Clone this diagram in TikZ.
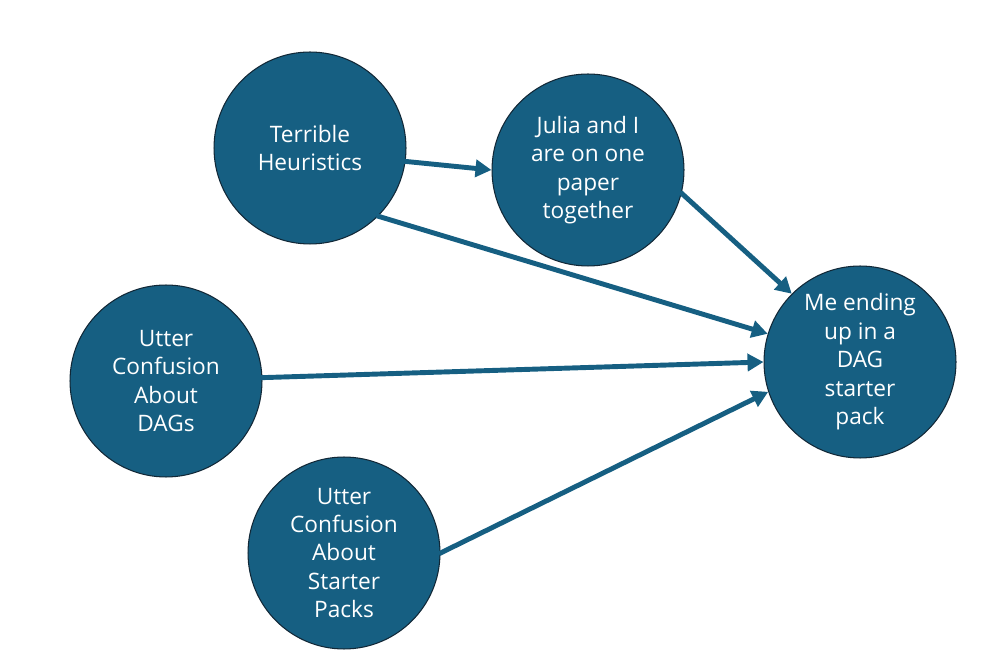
\documentclass[tikz,border=0pt]{standalone}
\usepackage{fontspec}
\setmainfont{Open Sans}
\usetikzlibrary{arrows.meta}
\definecolor{dagblue}{RGB}{22,95,130}
\definecolor{dagedge}{RGB}{18,40,55}
\tikzset{
  dagnode/.style={circle, fill=dagblue, draw=dagedge, line width=0.6pt,
    minimum size=3.84cm, inner sep=0pt, align=center, text=white,
    font=\fontsize{12.9}{16.2}\selectfont},
  dagarrow/.style={draw=dagblue, line width=2.8pt,
    -{Triangle[length=0.32cm,width=0.34cm]}, shorten <=-1pt}
}
\begin{document}
\begin{tikzpicture}[x=0.02cm,y=-0.02cm]
\useasboundingbox (0,0) rectangle (1000,671);
\node[dagnode] (th) at (310,148) {Terrible\\Heuristics};
\node[dagnode] (jp) at (588,170) {Julia and I\\are on one\\paper\\together};
\node[dagnode] (me) at (860,362) {Me ending\\up in a\\DAG\\starter\\pack};
\node[dagnode] (cd) at (166,381) {Utter\\Confusion\\About\\DAGs};
\node[dagnode] (cs) at (344,553) {Utter\\Confusion\\About\\Starter\\Packs};
\draw[dagarrow] (th.-8.5) -- (jp.180.5);
\draw[dagarrow] (th.-45) -- (me.163.5);
\draw[dagarrow] (jp.-14) -- (me.135.5);
\draw[dagarrow] (cd.2) -- (me.180);
\draw[dagarrow] (cs.0) -- (me.198.5);
\end{tikzpicture}
\end{document}
